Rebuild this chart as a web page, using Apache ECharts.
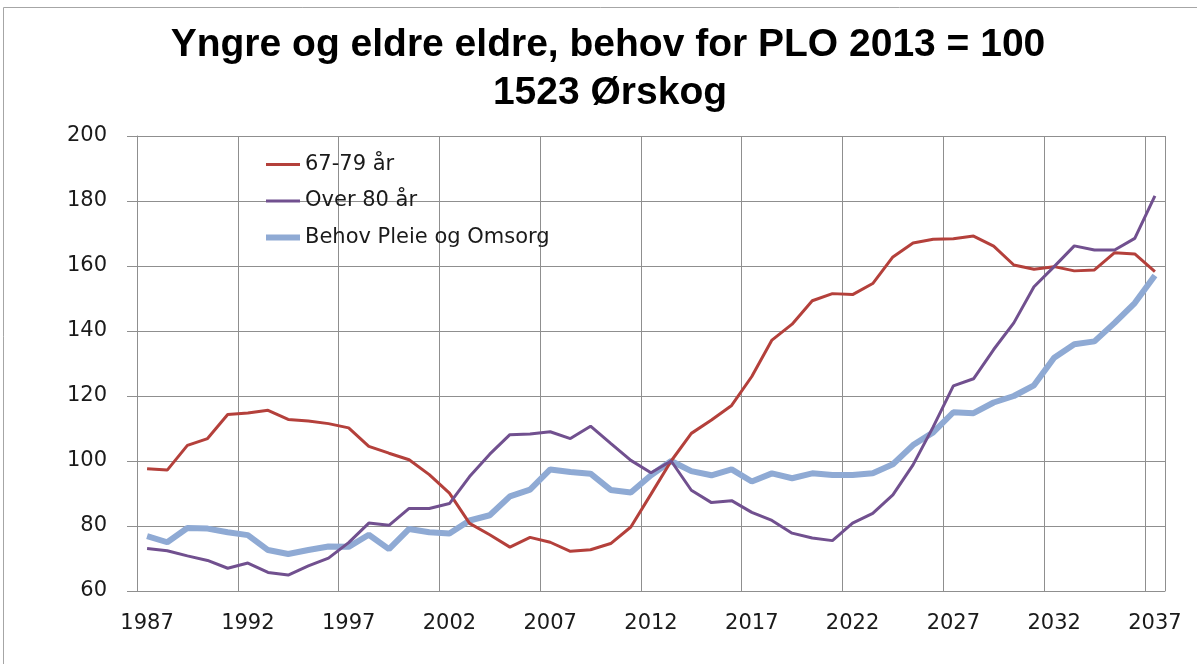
<!DOCTYPE html>
<html>
<head>
<meta charset="utf-8">
<script src="https://cdn.jsdelivr.net/npm/echarts@6/dist/echarts.min.js"></script>
<style>
  html, body { margin: 0; padding: 0; background: #fff; }
  #chart { width: 1197px; height: 664px; }
</style>
</head>
<body>
<div id="chart"></div>
<script>
// years on the category axis, 1987 - 2037
const years = [];
for (let y = 1987; y <= 2037; y++) years.push(String(y));

// 67-79 år
const age67to79 = [
  97.6, 97.2, 104.8, 106.9, 114.3, 114.8, 115.6, 112.8, 112.3, 111.5,
  110.2, 104.5, 102.4, 100.4, 95.8, 90.1, 80.8, 77.3, 73.5, 76.5,
  75.0, 72.2, 72.7, 74.6, 79.7, 89.8, 100, 108.5, 112.6, 117.1,
  126.0, 137.2, 142.1, 149.3, 151.5, 151.2, 154.6, 162.8, 167.1, 168.2,
  168.4, 169.2, 166.1, 160.3, 159.0, 159.8, 158.5, 158.8, 164.1, 163.7,
  158.3
];

// Over 80 år
const over80 = [
  73.1, 72.4, 70.8, 69.4, 67.0, 68.6, 65.7, 64.9, 67.7, 70.1,
  74.9, 80.9, 80.2, 85.4, 85.4, 86.9, 95.2, 102.1, 108.1, 108.3,
  109.0, 106.9, 110.7, 105.4, 100.2, 96.4, 100, 91.0, 87.2, 87.8,
  84.2, 81.7, 77.8, 76.3, 75.5, 80.9, 83.9, 89.6, 98.8, 110.5,
  123.1, 125.3, 134.3, 142.5, 153.6, 159.8, 166.2, 164.9, 164.9, 168.5,
  181.6
];

// Behov Pleie og Omsorg
const behovPLO = [
  76.9, 75.0, 79.4, 79.2, 78.1, 77.2, 72.6, 71.4, 72.6, 73.7,
  73.6, 77.3, 72.9, 79.1, 78.1, 77.7, 81.7, 83.3, 89.1, 91.2,
  97.4, 96.6, 96.1, 91.1, 90.3, 95.6, 100, 96.9, 95.6, 97.4,
  93.7, 96.2, 94.7, 96.2, 95.7, 95.7, 96.2, 99.0, 104.9, 108.8,
  115.0, 114.7, 118.0, 120.0, 123.3, 131.8, 135.9, 136.8, 142.5, 148.6,
  157.1
];

const gridGray = "#8f8f8f";
const labelFont = "DejaVu Sans";

// legend icons: plain bars inside a 34x20 box (the moveTo points keep the box size)
const thinLine = "path://M0,0M34,20M0,8.5L34,8.5L34,11.5L0,11.5Z";
const thickLine = "path://M0,0M34,20M0,7L34,7L34,13L0,13Z";

const chart = echarts.init(document.getElementById("chart"));

const option = {
  animation: false,
  backgroundColor: "#ffffff",
  graphic: [
    // outer frame of the chart area
    {
      type: "rect",
      shape: { x: 3.5, y: 7.5, width: 1250, height: 700 },
      style: { fill: "none", stroke: "#a6a6a6", lineWidth: 1 },
      silent: true,
    },
    {
      type: "text",
      x: 608,
      y: 45,
      style: {
        text: "Yngre og eldre eldre, behov for PLO 2013 = 100",
        font: "bold 39px 'Liberation Sans'",
        fill: "#000",
        align: "center",
        verticalAlign: "middle",
      },
    },
    {
      type: "text",
      x: 610,
      y: 93,
      style: {
        text: "1523 Ørskog",
        font: "bold 39px 'Liberation Sans'",
        fill: "#000",
        align: "center",
        verticalAlign: "middle",
      },
    },
  ],
  legend: {
    orient: "vertical",
    left: 266,
    top: 154,
    padding: 0,
    itemWidth: 34,
    itemHeight: 20,
    itemGap: 15.5,
    textStyle: { fontFamily: labelFont, fontSize: 21, color: "#1a1a1a" },
    data: [
      { name: "67-79 år", icon: thinLine },
      { name: "Over 80 år", icon: thinLine },
      { name: "Behov Pleie og Omsorg", icon: thickLine },
    ],
  },
  grid: { left: 137, right: 32, top: 136, bottom: 73 },
  xAxis: {
    type: "category",
    data: years,
    boundaryGap: true,
    axisLine: { lineStyle: { color: gridGray } },
    axisTick: { interval: 4, length: 8, lineStyle: { color: gridGray } },
    axisLabel: {
      interval: 4,
      margin: 22,
      fontFamily: labelFont,
      fontSize: 21,
      color: "#1a1a1a",
    },
    splitLine: { show: true, interval: 4, lineStyle: { color: gridGray } },
  },
  yAxis: {
    type: "value",
    min: 60,
    max: 200,
    interval: 20,
    axisLine: { show: true, lineStyle: { color: gridGray } },
    axisTick: { show: true, length: 10, lineStyle: { color: gridGray } },
    axisLabel: {
      margin: 30,
      fontFamily: labelFont,
      fontSize: 21,
      color: "#1a1a1a",
    },
    splitLine: { lineStyle: { color: gridGray } },
  },
  series: [
    {
      name: "67-79 år",
      type: "line",
      data: age67to79,
      symbol: "none",
      lineStyle: { color: "#B4403B", width: 3 },
      itemStyle: { color: "#B4403B" },
      z: 3,
    },
    {
      name: "Over 80 år",
      type: "line",
      data: over80,
      symbol: "none",
      lineStyle: { color: "#71508F", width: 3 },
      itemStyle: { color: "#71508F" },
      z: 3,
    },
    {
      name: "Behov Pleie og Omsorg",
      type: "line",
      data: behovPLO,
      symbol: "none",
      lineStyle: { color: "#8FAAD4", width: 6 },
      itemStyle: { color: "#8FAAD4" },
      z: 2,
    },
  ],
};

chart.setOption(option);
</script>
</body>
</html>
